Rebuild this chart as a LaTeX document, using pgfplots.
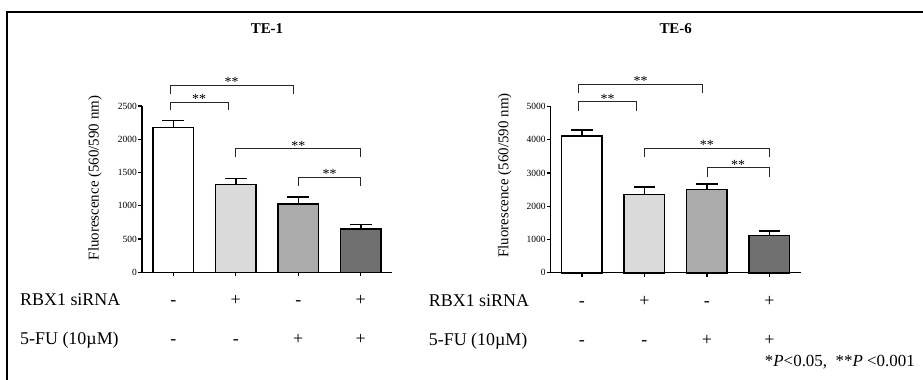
\documentclass[border=0pt]{standalone}
\usepackage{fontspec}
\setmainfont{Liberation Serif}
\usepackage{pgfplots}
\pgfplotsset{compat=1.18}
\definecolor{cA}{HTML}{FFFFFF}
\definecolor{cB}{HTML}{DADADA}
\definecolor{cC}{HTML}{ABABAB}
\definecolor{cD}{HTML}{707070}
\pgfplotsset{
  panel/.style={
    scale only axis, width=250bp, height=166.3bp,
    xmin=-0.5, xmax=3.5, ymin=0,
    axis x line*=bottom, axis y line*=left,
    axis line style={-, line width=1.2bp},
    every tick/.style={black, line width=1.2bp},
    tick align=outside, major tick length=4bp,
    xtick={0,1,2,3}, xticklabels={},
    clip=false,
    /pgf/number format/assume math mode=true,
    /pgf/number format/set thousands separator={},
    yticklabel style={font=\fontsize{9.5}{9.5}\selectfont, inner sep=1bp},
  },
  bar/.style={ybar, bar width=40.5bp, draw=black, line width=1.5bp, fill=#1,
    error bars/.cd, y dir=plus, y explicit,
    error bar style={line width=1.5bp, black},
    error mark options={rotate=90, line width=1.5bp, mark size=10.8bp, black}},
  brk/.style={black!85, line width=0.9bp, no markers, sharp plot},
}
\newcommand{\stars}[2]{\node[anchor=base, font=\fontsize{14}{14}\selectfont, inner sep=0pt] at ([yshift=-1.5bp]axis cs:#1,#2) {**};}
\newcommand{\rows}[8]{%
  \node[anchor=base, font=\fontsize{18}{18}\selectfont] at ([yshift=-33.5bp]axis cs:0,0) {#1};
  \node[anchor=base, font=\fontsize{18}{18}\selectfont] at ([yshift=-33.5bp]axis cs:1,0) {#2};
  \node[anchor=base, font=\fontsize{18}{18}\selectfont] at ([yshift=-33.5bp]axis cs:2,0) {#3};
  \node[anchor=base, font=\fontsize{18}{18}\selectfont] at ([yshift=-33.5bp]axis cs:3,0) {#4};
  \node[anchor=base, font=\fontsize{18}{18}\selectfont] at ([yshift=-72.5bp]axis cs:0,0) {#5};
  \node[anchor=base, font=\fontsize{18}{18}\selectfont] at ([yshift=-72.5bp]axis cs:1,0) {#6};
  \node[anchor=base, font=\fontsize{18}{18}\selectfont] at ([yshift=-72.5bp]axis cs:2,0) {#7};
  \node[anchor=base, font=\fontsize{18}{18}\selectfont] at ([yshift=-72.5bp]axis cs:3,0) {#8};
  \node[anchor=base west, font=\fontsize{18}{18}\selectfont, inner sep=0pt] at ([xshift=-122bp, yshift=-33.5bp]axis cs:-0.5,0) {RBX1 siRNA};
  \node[anchor=base west, font=\fontsize{18}{18}\selectfont, inner sep=0pt] at ([xshift=-122bp, yshift=-72.5bp]axis cs:-0.5,0) {5-FU (10µM)};
}
\begin{document}
\begin{tikzpicture}[x=1bp, y=1bp]
\path[use as bounding box] (0bp,0bp) rectangle (923bp,380bp);
\draw[line width=1.5bp] (7bp,0bp) -- (7bp,368bp) -- (923bp,368bp);

% TE-1
\begin{axis}[panel, at={(142bp,107.7bp)}, anchor=south west, ymax=2500, ytick={0,500,...,2500}]
\addplot[bar=cA] coordinates {(0,2180) +- (0,100)};
\addplot[bar=cB] coordinates {(1,1320) +- (0,90)};
\addplot[bar=cC] coordinates {(2,1025) +- (0,105)};
\addplot[bar=cD] coordinates {(3,650) +- (0,65)};
\addplot[brk] coordinates {(-0.05,2435) (-0.05,2555) (0.88,2555) (0.88,2435)};
\addplot[brk] coordinates {(-0.05,2685) (-0.05,2810) (1.92,2810) (1.92,2685)};
\addplot[brk] coordinates {(1.0,1730) (1.0,1860) (3.0,1860) (3.0,1730)};
\addplot[brk] coordinates {(2.0,1295) (2.0,1430) (3.0,1430) (3.0,1295)};
\stars{0.415}{2555}
\stars{0.935}{2810}
\stars{2.0}{1860}
\stars{2.5}{1430}
\node[anchor=base, font=\bfseries\fontsize{15}{15}\selectfont] at ([yshift=72.7bp]axis cs:1.5,2500) {TE-1};
\node[rotate=90, font=\fontsize{15}{15}\selectfont] at ([xshift=-47bp]axis cs:-0.5,1418) {Fluorescence (560/590 nm)};
\rows{-}{+}{-}{+}{-}{-}{+}{+}
\end{axis}

% TE-6
\begin{axis}[panel, at={(550.7bp,107.2bp)}, anchor=south west, ymax=5000, ytick={0,1000,...,5000}]
\addplot[bar=cA] coordinates {(0,4110) +- (0,180)};
\addplot[bar=cB] coordinates {(1,2350) +- (0,230)};
\addplot[bar=cC] coordinates {(2,2505) +- (0,160)};
\addplot[bar=cD] coordinates {(3,1120) +- (0,130)};
\addplot[brk] coordinates {(-0.05,4867) (-0.05,5150) (0.87,5150) (0.87,4867)};
\addplot[brk] coordinates {(-0.05,5401) (-0.05,5663) (1.93,5663) (1.93,5401)};
\addplot[brk] coordinates {(1.0,3482) (1.0,3744) (3.0,3744) (3.0,3482)};
\addplot[brk] coordinates {(2.0,2892) (2.0,3163) (3.0,3163) (3.0,2892)};
\stars{0.41}{5150}
\stars{0.94}{5663}
\stars{2.0}{3744}
\stars{2.5}{3163}
\node[anchor=base, font=\bfseries\fontsize{15}{15}\selectfont] at ([yshift=72.7bp]axis cs:1.5,5000) {TE-6};
\node[rotate=90, font=\fontsize{15}{15}\selectfont] at ([xshift=-46bp]axis cs:-0.5,2925) {Fluorescence (560/590 nm)};
\rows{-}{+}{-}{+}{-}{-}{+}{+}
\end{axis}

\node[anchor=base east, font=\fontsize{17}{17}\selectfont, inner sep=0pt] at (915bp,14bp) {*\textit{P}<0.05,\ \ **\textit{P} <0.001};
\end{tikzpicture}
\end{document}
